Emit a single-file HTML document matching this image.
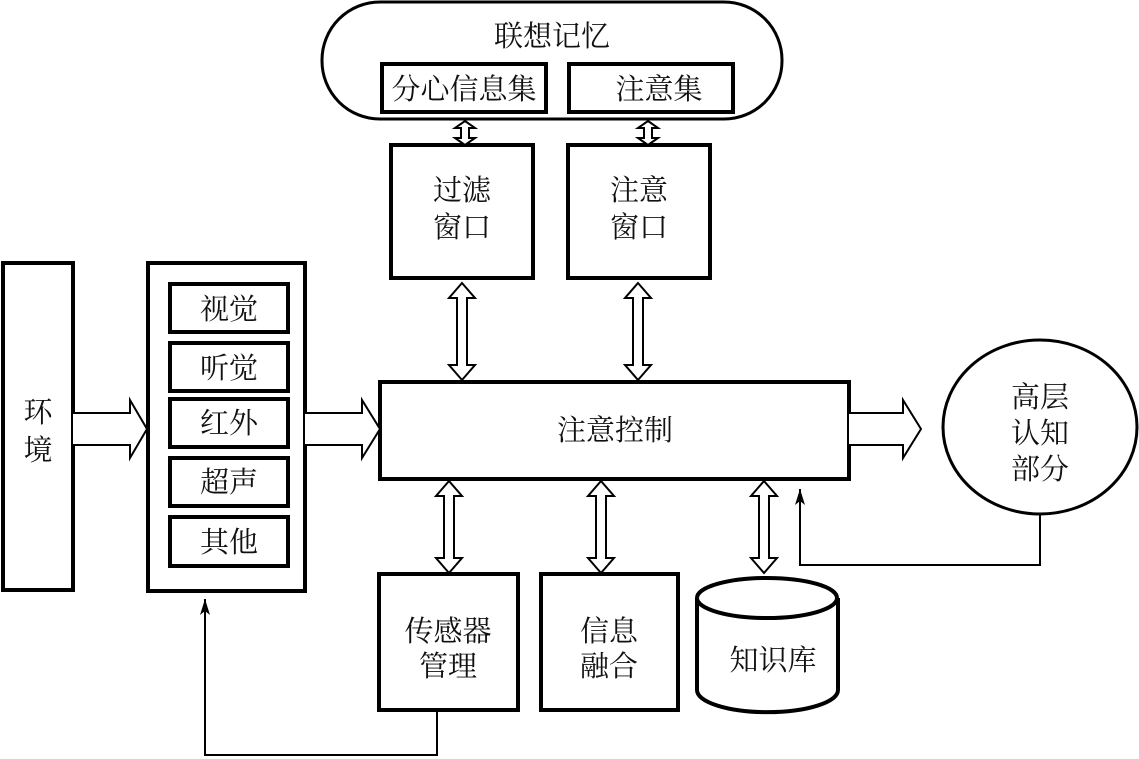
<!DOCTYPE html>
<html><head><meta charset="utf-8"><style>
body{margin:0;background:#fff}
svg{display:block}
text{font-family:"Liberation Serif","Noto Serif CJK SC","Noto Sans CJK SC",serif;font-size:29px;fill:#111;text-anchor:middle}
</style></head><body>
<svg width="1139" height="759" viewBox="0 0 1139 759">
<defs>
<marker id="ah" markerWidth="18" markerHeight="12" refX="16" refY="5" orient="auto" markerUnits="userSpaceOnUse">
<path d="M0,0 L16,5 L0,10 L4,5 Z" fill="#000"/></marker>
</defs>
<g fill="#fff" stroke="#000" stroke-width="4">
<rect x="322" y="2" width="460" height="117" rx="58" ry="58" stroke-width="3"/>
<rect x="382" y="64" width="164" height="48"/>
<rect x="569" y="64" width="164" height="48"/>
<rect x="391" y="145" width="142" height="133"/>
<rect x="568" y="145" width="142" height="133"/>
<rect x="3" y="263" width="70" height="327"/>
<rect x="148" y="263" width="157" height="328"/>
<rect x="170" y="284" width="118" height="48"/>
<rect x="170" y="343" width="118" height="48"/>
<rect x="170" y="399" width="118" height="48"/>
<rect x="170" y="458" width="118" height="48"/>
<rect x="170" y="517" width="118" height="49"/>
<rect x="380" y="382" width="469" height="97"/>
<rect x="379" y="574" width="139" height="136"/>
<rect x="541" y="574" width="137" height="136"/>
<path d="M697,598 L697,690 A70,22 0 0 0 838,690 L838,598"/>
<ellipse cx="767" cy="598" rx="70" ry="20"/>
<ellipse cx="1040" cy="427" rx="97" ry="87" stroke-width="3"/>
</g>
<g fill="#fff" stroke="#000" stroke-width="2">
<path d="M73,413 L130,413 L130,400 L147,429 L130,458 L130,445 L73,445"/>
<path d="M305,413 L362,413 L362,400 L380,429 L362,458 L362,445 L305,445"/>
<path d="M849,413 L903,413 L903,400 L921,429 L903,458 L903,445 L849,445"/>
</g>
<g fill="#fff" stroke="#000" stroke-width="2">
<path d="M462,283 L475,298 L467,298 L467,365 L475,365 L462,380 L449,365 L457,365 L457,298 L449,298 Z"/>
<path d="M638,283 L651,298 L643,298 L643,365 L651,365 L638,380 L625,365 L633,365 L633,298 L625,298 Z"/>
<path d="M449,481 L462,496 L454,496 L454,558 L462,558 L449,573 L436,558 L444,558 L444,496 L436,496 Z"/>
<path d="M601,481 L614,496 L606,496 L606,558 L614,558 L601,573 L588,558 L596,558 L596,496 L588,496 Z"/>
<path d="M764,481 L777,496 L769,496 L769,558 L777,558 L764,573 L751,558 L759,558 L759,496 L751,496 Z"/>
<path d="M465,121 L475,128 L469,128 L469,138 L475,138 L465,145 L455,138 L461,138 L461,128 L455,128 Z"/>
<path d="M648,121 L658,128 L652,128 L652,138 L658,138 L648,145 L638,138 L644,138 L644,128 L638,128 Z"/>
</g>
<g fill="none" stroke="#000" stroke-width="2">
<path d="M437,710 L437,755 L205,755 L205,599" marker-end="url(#ah)"/>
<path d="M1040,514 L1040,565 L800,565 L800,489" marker-end="url(#ah)"/>
</g>
<text x="552" y="46">联想记忆</text>
<text x="464" y="99">分心信息集</text>
<text x="659" y="99">注意集</text>
<text x="462" y="200">过滤</text>
<text x="462" y="237">窗口</text>
<text x="639" y="200">注意</text>
<text x="639" y="237">窗口</text>
<text x="38" y="422">环</text>
<text x="38" y="460">境</text>
<text x="229" y="319">视觉</text>
<text x="229" y="378">听觉</text>
<text x="229" y="433">红外</text>
<text x="229" y="492">超声</text>
<text x="229" y="552">其他</text>
<text x="615" y="440">注意控制</text>
<text x="448" y="641">传感器</text>
<text x="448" y="676">管理</text>
<text x="609" y="641">信息</text>
<text x="609" y="676">融合</text>
<text x="773" y="670">知识库</text>
<text x="1040" y="407">高层</text>
<text x="1040" y="443">认知</text>
<text x="1040" y="479">部分</text>
</svg>
</body></html>
